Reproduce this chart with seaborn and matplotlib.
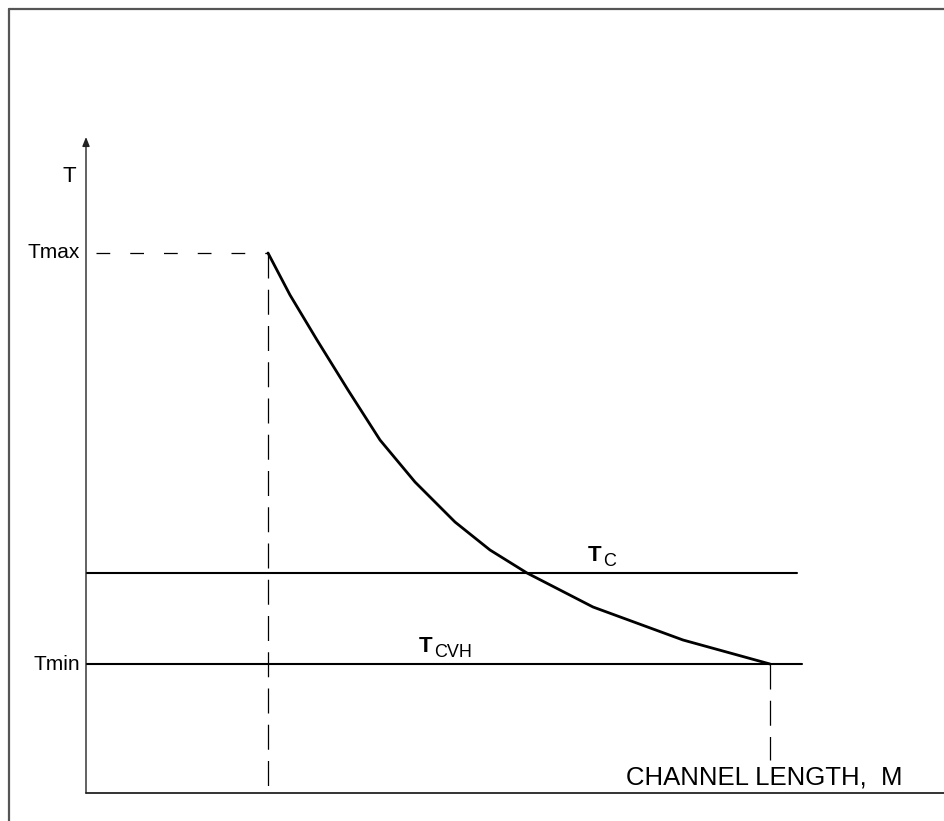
import matplotlib
matplotlib.use("Agg")
import matplotlib.pyplot as plt
from matplotlib.lines import Line2D
import pandas as pd
import seaborn as sns

# Temperature along the channel (schematic units)
channel_pos = [182, 204, 231, 262, 294, 329, 369, 404, 441, 507, 597, 684]
temperature = [540, 498, 453, 403, 353, 311, 271, 243, 220, 186, 153, 129]

t_max = 540
t_c = 220
t_cvh = 129
x_start = 182
x_end = 684
tc_line_end = 711
tcvh_line_end = 716

x_label = "CHANNEL LENGTH,  M"
y_label = "T"

sns.set_theme(style="white")
plt.rcParams["font.family"] = ["Liberation Sans", "DejaVu Sans"]
plt.rcParams["text.color"] = "black"

fig = plt.figure(figsize=(9.45, 8.21), dpi=100)
W, H = 945, 821
ax = fig.add_axes([86 / W, (H - 793) / H, (W - 86) / W, (793 - 137) / H])
ax.set_xlim(0, W - 86)
ax.set_ylim(0, 793 - 137)
for s in ax.spines.values():
    s.set_visible(False)
ax.set_xticks([])
ax.set_yticks([])

# Outer frame
fig.add_artist(Line2D([9 / W, 9 / W], [0, 1 - 9 / H], color="#555555", lw=1.6))
fig.add_artist(Line2D([9 / W, 1], [1 - 9 / H, 1 - 9 / H], color="#555555", lw=1.6))

# Axes
ax.plot([0, W - 86], [0, 0], color="#333333", lw=1.4, clip_on=False)
ax.annotate("", xy=(0, 656), xytext=(0, 0),
            arrowprops=dict(arrowstyle="-|>,head_length=0.45,head_width=0.18",
                            color="#222222", lw=1.0, shrinkA=0, shrinkB=0),
            annotation_clip=False)

# Reference levels
df_tc = pd.DataFrame({"x": [0, tc_line_end], "y": [t_c, t_c]})
df_tcvh = pd.DataFrame({"x": [0, tcvh_line_end], "y": [t_cvh, t_cvh]})
sns.lineplot(data=df_tc, x="x", y="y", ax=ax, color="black", lw=1.5)
sns.lineplot(data=df_tcvh, x="x", y="y", ax=ax, color="black", lw=1.5)

# Dashed guides
ax.plot([10, x_start], [t_max, t_max], color="black", lw=0.9, dashes=(11, 16))
ax.plot([x_start, x_start], [t_max, 0], color="black", lw=0.9, dashes=(20, 9))
ax.plot([x_end, x_end], [t_cvh, 33], color="black", lw=0.9, dashes=(20, 9))

# Temperature curve
df_curve = pd.DataFrame({"x": channel_pos, "y": temperature})
sns.lineplot(data=df_curve, x="x", y="y", ax=ax, color="black", lw=2.0, sort=False)

ax.set_xlabel("")
ax.set_ylabel("")


def subscripted(x, y, main, sub):
    """Bold symbol with a regular-weight subscript just after it."""
    ax.text(x, y, main, fontsize=16, fontweight="bold", ha="left",
            va="baseline", color="black")
    ax.annotate(sub, xy=(x, y), xytext=(10.6, -3.6), textcoords="offset points",
                fontsize=13, ha="left", va="baseline", color="black")


# Labels
ax.text(-17, 616, y_label, fontsize=16, ha="center", va="center", color="black")
ax.text(-6, t_max, "Tmax", fontsize=15, ha="right", va="center", color="black")
ax.text(-6, t_cvh, "Tmin", fontsize=15, ha="right", va="center", color="black")
subscripted(502, t_c + 12, "T", "C")
subscripted(333, t_cvh + 12, "T", "CVH")
ax.text(540, 16, x_label, fontsize=18.5, ha="left", va="center", color="black")

fig.savefig("out.png", dpi=100)
